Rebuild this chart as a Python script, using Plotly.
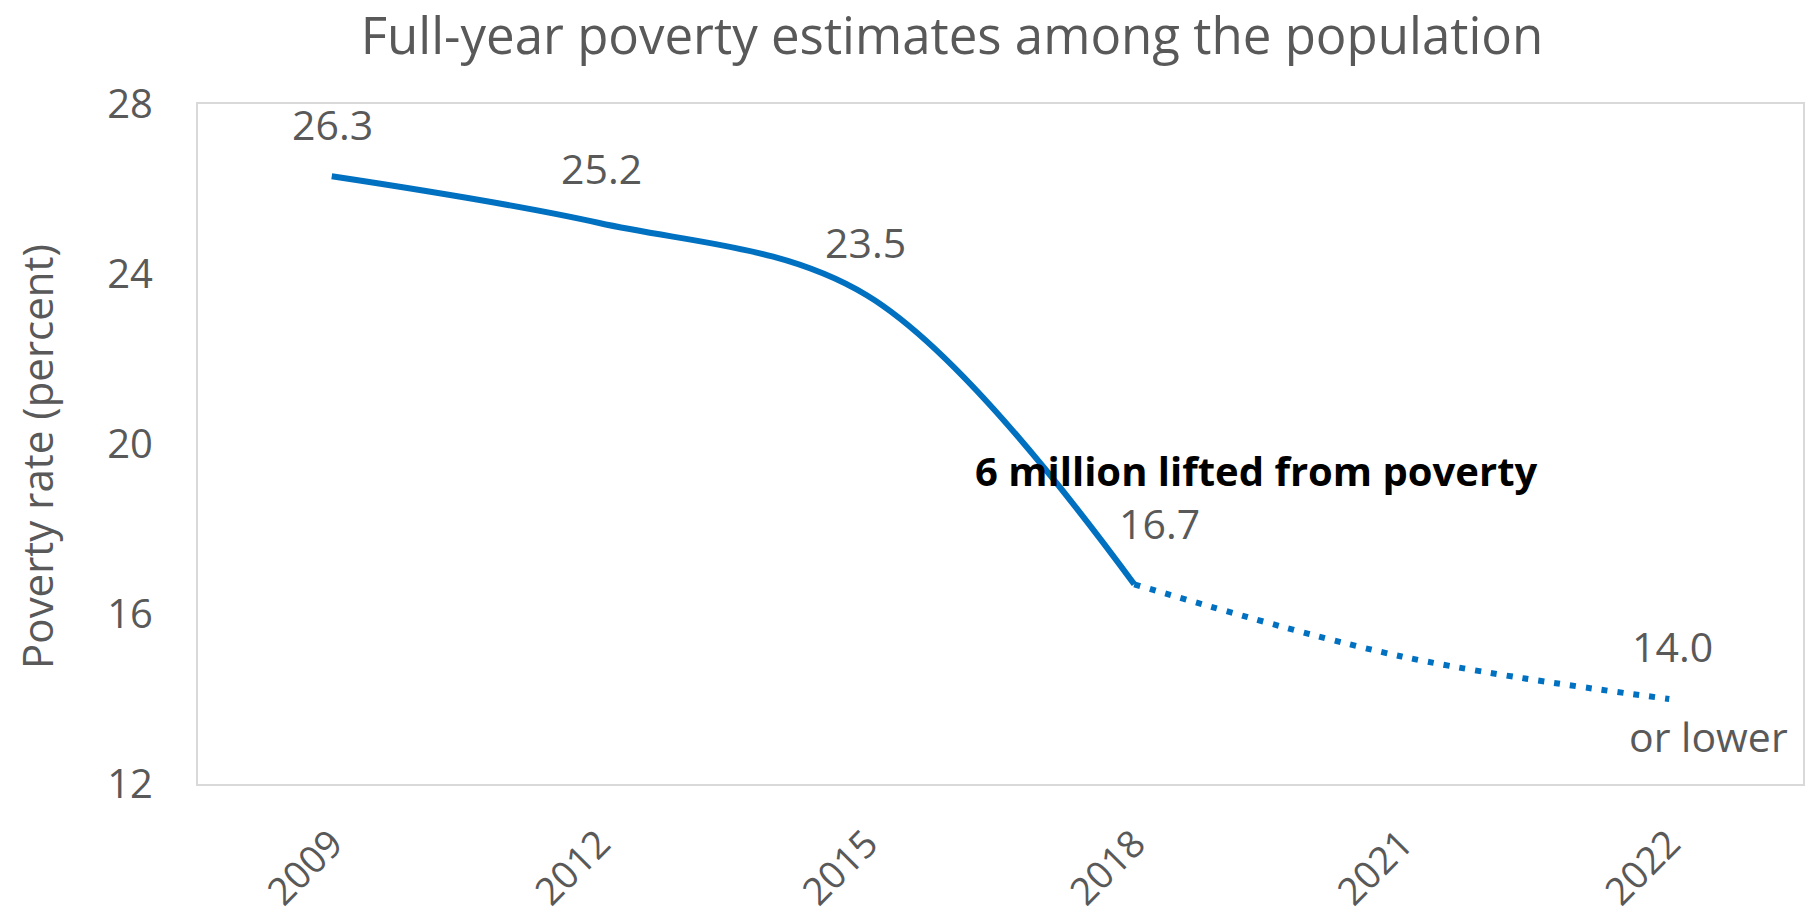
import plotly.graph_objects as go

# ---- data ----
years_actual = ["2009", "2012", "2015", "2018"]
rate_actual = [26.3, 25.2, 23.5, 16.7]
years_projected = ["2018", "2021", "2022"]
rate_projected = [16.7, 15.0, 14.0]
all_years = ["2009", "2012", "2015", "2018", "2021", "2022"]
label_years = ["2009", "2012", "2015", "2018", "2022"]
label_values = [26.3, 25.2, 23.5, 16.7, 14.0]
y_ticks = [12, 16, 20, 24, 28]

title_text = "Full-year poverty estimates among the population"
y_title = "Poverty rate (percent)"
callout = "6 million lifted from poverty"
note_2022 = "or lower"

BLUE = "#0070C0"
GRAY = "#595959"
FONT = "Open Sans"

fig = go.Figure()
fig.add_trace(go.Scatter(
    x=years_actual, y=rate_actual, mode="lines",
    line=dict(color=BLUE, width=6, shape="spline", smoothing=1.0),
    showlegend=False, hoverinfo="x+y"))
fig.add_trace(go.Scatter(
    x=years_projected, y=rate_projected, mode="lines",
    line=dict(color=BLUE, width=6, shape="spline", smoothing=1.0, dash="6px,10px"),
    showlegend=False, hoverinfo="x+y"))

# data labels (offsets in pixels relative to each point); category index used for x
offsets = {"2009": (1, 52), "2012": (2, 55), "2015": (-1, 53), "2018": (25, 61), "2022": (3, 53)}
for yr, v in zip(label_years, label_values):
    dx, dy = offsets[yr]
    fig.add_annotation(x=all_years.index(yr), y=v, xref="x", yref="y", text=f"{v:.1f}",
                       showarrow=False, xshift=dx, yshift=dy,
                       xanchor="center", yanchor="middle",
                       font=dict(family=FONT, size=41, color=GRAY))
fig.add_annotation(x=all_years.index(label_years[-1]), y=label_values[-1], xref="x", yref="y",
                   text=note_2022, showarrow=False, xshift=39, yshift=-37,
                   xanchor="center", yanchor="middle",
                   font=dict(family=FONT, size=41, color=GRAY))

fig.add_annotation(x=0.659, y=0.461, xref="paper", yref="paper", text=f"<b>{callout}</b>",
                   showarrow=False, xanchor="center", yanchor="middle",
                   font=dict(family=FONT, size=40, color="#000000"))

fig.add_annotation(x=-0.101, y=0.5, xref="paper", yref="paper", text=y_title,
                   textangle=-90, showarrow=False, yshift=-12,
                   xanchor="center", yanchor="middle",
                   font=dict(family=FONT, size=42, color=GRAY))

fig.update_layout(
    template="none",
    width=1806, height=914,
    margin=dict(l=198, r=3, t=104, b=130, pad=0),
    paper_bgcolor="white", plot_bgcolor="white",
    title=dict(text=title_text, x=952 / 1806, xref="container", xanchor="center",
               y=1 - 36 / 914, yref="container", yanchor="middle",
               font=dict(family=FONT, size=51, color=GRAY)),
    xaxis=dict(type="category", categoryorder="array", categoryarray=all_years,
               range=[-0.5, 5.5], tickangle=-45, showgrid=False, zeroline=False,
               showline=True, mirror=True, linecolor="#d9d9d9", linewidth=2,
               ticks="", ticklabelstandoff=20, automargin=False,
               tickfont=dict(family=FONT, size=38, color=GRAY)),
    yaxis=dict(range=[12, 28], tickvals=y_ticks, showgrid=False, zeroline=False,
               showline=True, mirror=True, linecolor="#d9d9d9", linewidth=2,
               ticks="", ticklabelstandoff=35, automargin=False,
               tickfont=dict(family=FONT, size=40, color=GRAY)),
)

fig.write_html("out.html")
